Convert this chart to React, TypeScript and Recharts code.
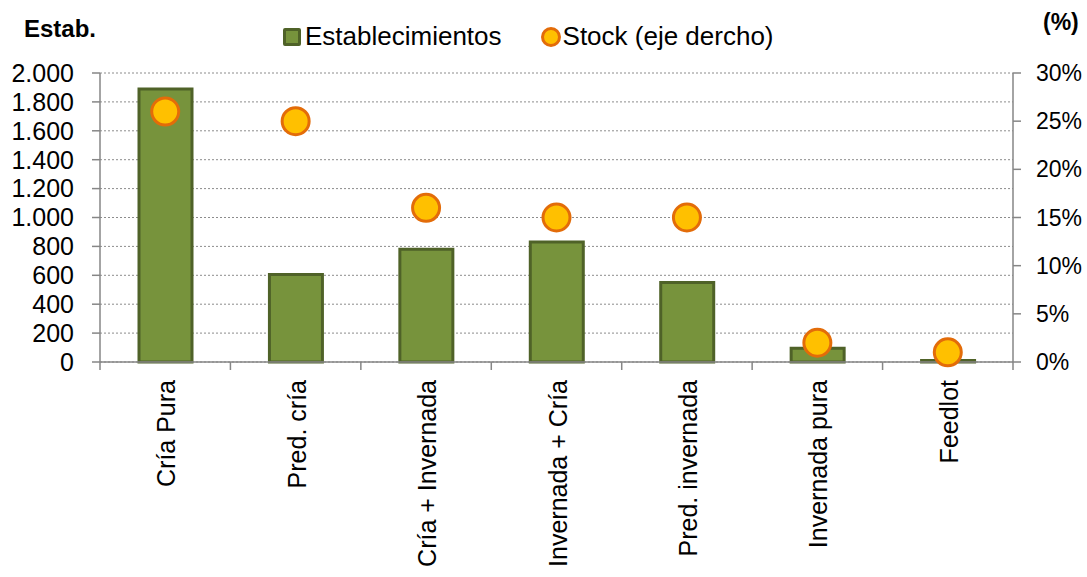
import {
  ComposedChart,
  Bar,
  Line,
  XAxis,
  YAxis,
  CartesianGrid,
  Legend,
} from "recharts";

const CATEGORIES = [
  "Cría Pura",
  "Pred. cría",
  "Cría + Invernada",
  "Invernada + Cría",
  "Pred. invernada",
  "Invernada pura",
  "Feedlot",
];
const ESTABLECIMIENTOS = [1890, 605, 780, 830, 550, 95, 10];
const STOCK_PCT = [26, 25, 16, 15, 15, 2, 1];
const LEFT_TICKS = [0, 200, 400, 600, 800, 1000, 1200, 1400, 1600, 1800, 2000];
const RIGHT_TICKS = [0, 5, 10, 15, 20, 25, 30];

const WIDTH = 1087;
const HEIGHT = 577;
const PLOT_LEFT = 100;
const PLOT_RIGHT = 1013;
const BAND = (PLOT_RIGHT - PLOT_LEFT) / CATEGORIES.length;

const FONT = "'Liberation Sans', Arial, sans-serif";
const AXIS = "#868686";
const BAR_FILL = "#77933C";
const BAR_STROKE = "#4F6228";
const DOT_FILL = "#FFC000";
const DOT_STROKE = "#E36C09";

const data = CATEGORIES.map((name, i) => ({
  name,
  estab: ESTABLECIMIENTOS[i],
  stock: STOCK_PCT[i],
}));

const fmtThousands = (v: number) =>
  v.toString().replace(/\B(?=(\d{3})+(?!\d))/g, ".");

// category ticks sit on the band edges, labels rotated upright
function CategoryTick(props: any) {
  const { x, y, payload, index } = props;
  const last = index === CATEGORIES.length - 1;
  return (
    <g>
      <line x1={x - BAND / 2} x2={x - BAND / 2} y1={y} y2={y + 8} stroke={AXIS} strokeWidth={1.5} />
      {last && (
        <line x1={x + BAND / 2} x2={x + BAND / 2} y1={y} y2={y + 8} stroke={AXIS} strokeWidth={1.5} />
      )}
      <text
        transform={`translate(${x + 10},${y + 18}) rotate(-90)`}
        textAnchor="end"
        fontSize={25}
        fill="#000"
        fontFamily={FONT}
      >
        {payload.value}
      </text>
    </g>
  );
}

function LegendContent() {
  return (
    <div
      style={{
        display: "flex",
        alignItems: "center",
        fontSize: 26,
        lineHeight: "29px",
        fontFamily: FONT,
        color: "#000",
        whiteSpace: "nowrap",
      }}
    >
      <span
        style={{
          display: "inline-block",
          width: 12,
          height: 12,
          background: BAR_FILL,
          border: `3px solid ${BAR_STROKE}`,
          borderRadius: 2,
          marginRight: 4,
        }}
      />
      <span style={{ marginRight: 38 }}>Establecimientos</span>
      <svg width={22} height={22} style={{ marginRight: 1 }}>
        <circle cx={11} cy={11} r={8.5} fill={DOT_FILL} stroke={DOT_STROKE} strokeWidth={3} />
      </svg>
      <span>Stock (eje dercho)</span>
    </div>
  );
}

export default function App() {
  return (
    <div
      style={{
        position: "absolute",
        top: 0,
        left: 0,
        width: WIDTH,
        height: HEIGHT,
        background: "#fff",
        fontFamily: FONT,
      }}
    >
      <div style={{ position: "absolute", left: 24, top: 15, fontSize: 24, fontWeight: "bold" }}>
        Estab.
      </div>
      <div style={{ position: "absolute", left: 1043, top: 9, fontSize: 23, fontWeight: "bold" }}>
        (%)
      </div>
      <ComposedChart
        width={WIDTH}
        height={HEIGHT}
        data={data}
        margin={{ top: 73, right: 0, bottom: 0, left: 0 }}
        style={{ fontFamily: FONT }}
      >
        <CartesianGrid
          vertical={false}
          stroke="#8c8c8c"
          strokeDasharray="2 2"
          yAxisId="left"
        />
        <XAxis
          dataKey="name"
          height={215}
          interval={0}
          tickLine={false}
          tickSize={0}
          tickMargin={0}
          axisLine={{ stroke: AXIS, strokeWidth: 1.5 }}
          tick={<CategoryTick />}
        />
        <YAxis
          yAxisId="left"
          width={100}
          domain={[0, 2000]}
          ticks={LEFT_TICKS}
          interval={0}
          tickFormatter={fmtThousands}
          tickSize={8}
          tickMargin={18}
          tickLine={{ stroke: AXIS, strokeWidth: 1.5 }}
          axisLine={{ stroke: AXIS, strokeWidth: 1.5 }}
          tick={{ fontSize: 25, fill: "#000" }}
        />
        <YAxis
          yAxisId="right"
          orientation="right"
          width={74}
          domain={[0, 30]}
          ticks={RIGHT_TICKS}
          interval={0}
          tickFormatter={(v: number) => `${v}%`}
          tickSize={8}
          tickMargin={15}
          tickLine={{ stroke: AXIS, strokeWidth: 1.5 }}
          axisLine={{ stroke: AXIS, strokeWidth: 1.5 }}
          tick={{ fontSize: 23, fill: "#000", textAnchor: "start" }}
        />
        <Legend
          verticalAlign="middle"
          align="center"
          content={<LegendContent />}
          wrapperStyle={{ top: 22, left: 283, width: "auto" }}
        />
        <Bar
          yAxisId="left"
          dataKey="estab"
          name="Establecimientos"
          fill={BAR_FILL}
          stroke={BAR_STROKE}
          strokeWidth={3}
          barSize={53}
          isAnimationActive={false}
        />
        <Line
          yAxisId="right"
          dataKey="stock"
          name="Stock (eje dercho)"
          stroke="none"
          dot={{ r: 13.5, fill: DOT_FILL, stroke: DOT_STROKE, strokeWidth: 3 }}
          activeDot={false}
          isAnimationActive={false}
        />
      </ComposedChart>
    </div>
  );
}
